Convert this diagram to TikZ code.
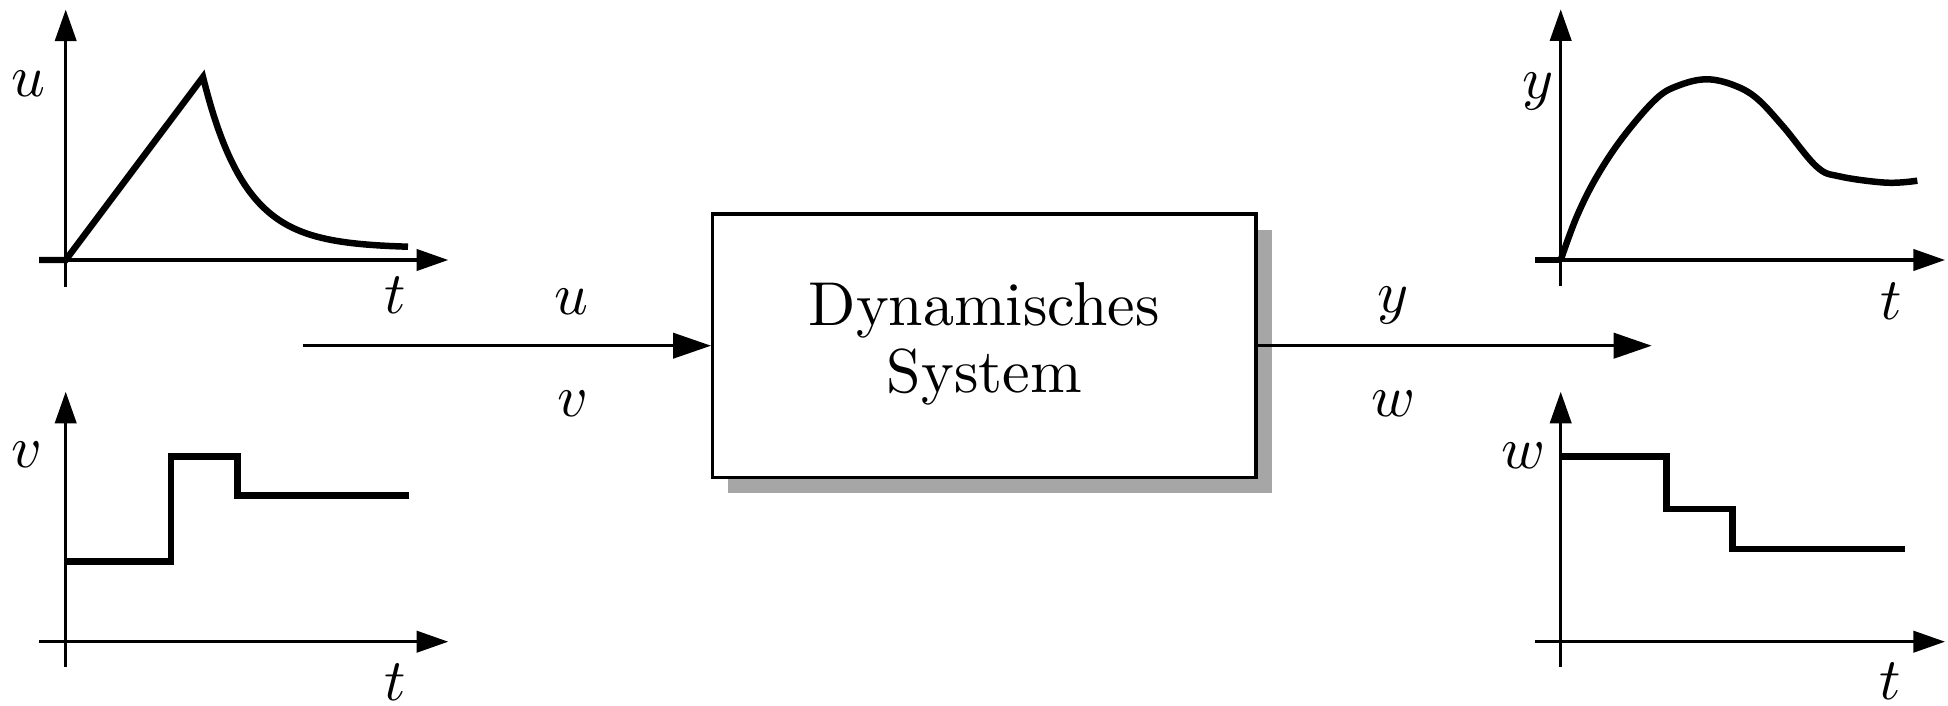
\RequirePackage{fix-cm}
\documentclass[tikz,border=0pt]{standalone}
\usetikzlibrary{arrows.meta,shadows}

% math letters set in the 10pt design and enlarged
\newcommand{\biglbl}[1]{\scalebox{1.48}{$#1$}}

\tikzset{
  axis/.style={line width=0.83pt, -{Triangle[length=7.9pt,width=5.3pt]}},
  signal/.style={line width=1.62pt},
  flow/.style={line width=0.83pt, -{Triangle[length=9.5pt,width=6.3pt]}},
  lbl/.style={anchor=base, inner sep=0pt, font=\fontsize{10}{12}\selectfont},
  sysbox/.style={draw, line width=0.83pt, fill=white,
    minimum width=135.8pt, minimum height=65.8pt, align=center,
    font=\fontsize{10}{12}\selectfont,
    drop shadow={shadow xshift=3.9pt, shadow yshift=-4pt, fill=black!35, opacity=1}}
}

\begin{document}
\begin{tikzpicture}[x=0.25pt, y=-0.25pt]
\useasboundingbox (0,0) rectangle (1948,706);

% ---- input signal u(t) ----
\coordinate (uO) at (65.7,260);
\draw[axis] (65.7,287) -- (65.7,9.5);
\draw[axis] (39,260) -- (448.3,260);
\draw[signal] (39,260) -- (uO) -- (203,77)
  -- plot[domain=203:408, samples=80] (\x, {248-171*exp(-(\x-203)/42)});
\node[lbl] (uLab) at (28,96.7) {\biglbl{u}};
\node[lbl] (tUL) at (395,313.3) {\biglbl{t}};

% ---- input signal v(t) ----
\draw[axis] (65.7,667) -- (65.7,391.7);
\draw[axis] (39,641.7) -- (448.3,641.7);
\draw[signal] (65.7,561.7) -- (171,561.7) -- (171,456.3) -- (237.3,456.3)
  -- (237.3,495.7) -- (409.3,495.7);
\node[lbl] (vLab) at (27,467.3) {\biglbl{v}};
\node[lbl] (tVL) at (395,700.5) {\biglbl{t}};

% ---- output signal y(t) ----
\draw[axis] (1560.7,286) -- (1560.7,9.3);
\draw[axis] (1535,260) -- (1945,260);
\draw[signal] (1535,260) -- (1560.7,260);
\draw[signal] plot[smooth, tension=0.6] coordinates {
  (1560.7,260) (1576.7,216.7) (1596.7,176.7) (1623.3,136.7) (1656.7,98.3)
  (1680,85) (1706.7,79.3) (1733.3,85) (1756.7,98.3) (1783.3,126.7)
  (1816.7,166.7) (1840,176.5) (1886.7,182.7) (1917.3,180.7)};
\node[lbl] (yLab) at (1538,99) {\biglbl{y}};
\node[lbl] (tYR) at (1890.7,319.3) {\biglbl{t}};

% ---- output signal w(t) ----
\draw[axis] (1560.7,667) -- (1560.7,391.7);
\draw[axis] (1535,641.7) -- (1945,641.7);
\draw[signal] (1560.7,456.7) -- (1666.7,456.7) -- (1666.7,509.2) -- (1732.7,509.2)
  -- (1732.7,549.2) -- (1905,549.2);
\node[lbl] (wLab) at (1523,468) {\biglbl{w}};
\node[lbl] (tWR) at (1890,699) {\biglbl{t}};

% ---- system block with inputs and outputs ----
\node[sysbox] (sys) at (984.3,345.7)
  {\scalebox{1.55}{\renewcommand\arraystretch{0.9}%
   \begin{tabular}{@{}c@{}}Dynamisches\\System\end{tabular}}};
\coordinate (in) at (302.7,345.7);
\coordinate (out) at (1651.7,345.7);
\draw[flow] (in) -- (sys.west);
\draw[flow] (sys.east) -- (out);
\node[lbl] (uIn) at (571.7,314) {\biglbl{u}};
\node[lbl] (vIn) at (572.7,416) {\biglbl{v}};
\node[lbl] (yOut) at (1393,312.4) {\biglbl{y}};
\node[lbl] (wOut) at (1393,416) {\biglbl{w}};
\end{tikzpicture}
\end{document}
